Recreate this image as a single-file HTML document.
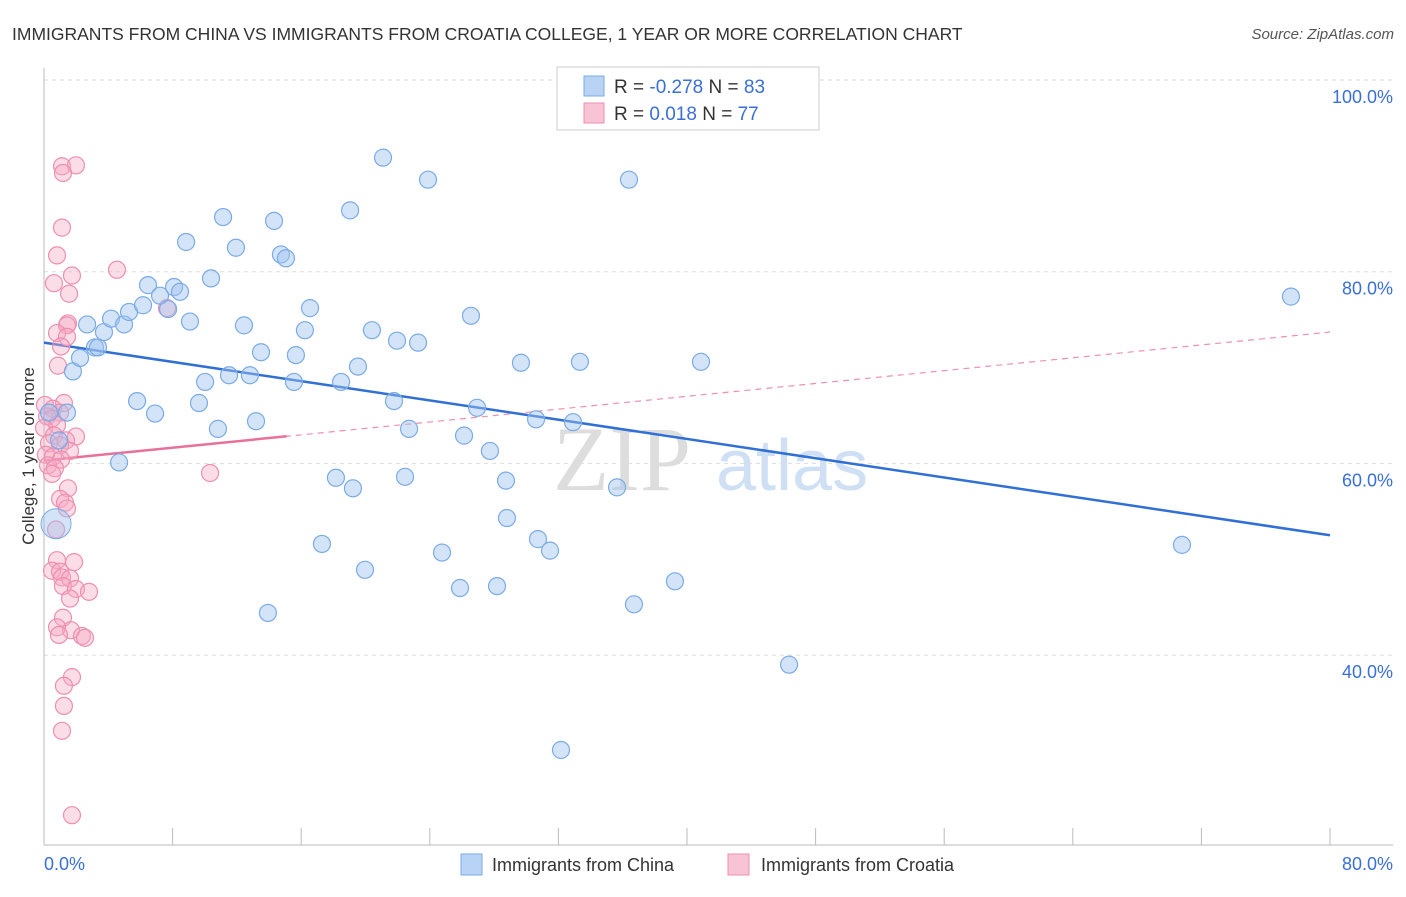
<!DOCTYPE html>
<html><head><meta charset="utf-8"><style>
body{margin:0;background:#fff;font-family:"Liberation Sans",sans-serif}
</style></head><body>
<svg width="1406" height="892" xmlns="http://www.w3.org/2000/svg" style="font-family:'Liberation Sans',sans-serif">
<text x="12" y="40" font-size="17.5" fill="#333">IMMIGRANTS FROM CHINA VS IMMIGRANTS FROM CROATIA COLLEGE, 1 YEAR OR MORE CORRELATION CHART</text>
<text x="1394" y="39" font-size="15" fill="#555" text-anchor="end" font-style="italic">Source: ZipAtlas.com</text>
<g><text x="553" y="490" font-size="92" fill="#ddd" font-family="Liberation Serif,serif">ZIP</text><text x="716" y="490" font-size="72" fill="#cfe0f5">atlas</text></g>
<g id="grid"></g>
<g id="axes"></g>
<text transform="translate(34,456) rotate(-90)" font-size="17" fill="#333" text-anchor="middle">College, 1 year or more</text>
<g id="lines"></g>
<g id="pts"></g>
<g>
<rect x="557" y="67" width="262" height="63" fill="#fff" stroke="#ccc"/>
<rect x="584" y="76" width="20" height="20" fill="#b9d3f5" stroke="#7aabe6"/>
<rect x="584" y="103" width="20" height="20" fill="#f7c3d5" stroke="#ee8fb0"/>
<text x="614" y="93" font-size="19" fill="#333">R = <tspan fill="#3a6fd8">-0.278</tspan>   N = <tspan fill="#3a6fd8">83</tspan></text>
<text x="614" y="120" font-size="19" fill="#333">R =   <tspan fill="#3a6fd8">0.018</tspan>   N = <tspan fill="#3a6fd8">77</tspan></text>
</g>
<g>
<rect x="461" y="854" width="21" height="21" fill="#b9d3f5" stroke="#7aabe6"/>
<text x="492" y="871" font-size="18" fill="#333">Immigrants from China</text>
<rect x="728" y="854" width="21" height="21" fill="#f7c3d5" stroke="#ee8fb0"/>
<text x="761" y="871" font-size="18" fill="#333">Immigrants from Croatia</text>
</g>
</svg>
<script>
const chinaX=[1.43,2.68,3.17,3.36,3.73,4.17,4.98,5.29,5.79,6.16,6.47,6.91,7.22,7.72,8.09,8.46,8.84,9.08,9.64,10.02,10.39,10.82,11.14,11.51,11.94,12.44,12.81,13.19,13.5,14.31,14.74,15.05,15.55,15.67,16.23,16.55,17.29,18.16,18.48,19.04,19.22,19.53,19.97,20.4,21.09,21.77,21.96,22.46,22.71,23.27,23.89,24.76,25.88,26.13,26.56,26.94,27.74,28.18,28.74,28.8,29.67,30.61,30.73,31.48,32.16,32.91,33.34,35.65,36.39,36.7,39.25,40.87,46.35,70.79,77.57,4.67,1.8,2.24,0.31,0.93,13.93];
const chinaY=[65.3,74.5,72.1,72.1,73.7,75.1,74.5,75.8,66.5,76.5,78.6,65.2,77.5,76.1,78.4,77.9,83.1,74.8,66.3,68.5,79.3,63.6,85.7,69.2,82.5,74.4,69.2,64.4,71.6,85.3,81.8,81.4,68.5,71.3,73.9,76.2,51.6,58.5,68.5,86.4,57.4,70.1,48.9,73.9,91.9,66.5,72.8,58.6,63.6,72.6,89.6,50.7,47.0,62.9,75.4,65.8,61.3,47.2,58.2,54.3,70.5,64.6,52.1,50.9,30.1,64.3,70.6,57.5,89.6,45.3,47.7,70.6,39.0,51.5,77.4,60.1,69.6,71.0,65.3,62.4,44.4];
const croatiaX=[1.12,1.99,1.18,1.12,0.81,4.54,1.74,0.62,1.56,7.65,1.49,1.43,0.81,1.43,1.06,0.87,1.24,0.06,0.56,1.0,0.19,0.5,0.81,0,0.62,1.99,1.37,0.31,1.0,1.62,0.12,0.56,1.06,0.25,0.68,0.5,10.33,1.49,1.0,1.31,1.43,0.75,0.81,1.87,0.5,1.0,1.12,1.62,1.18,1.99,2.8,1.62,1.18,1.68,0.81,0.93,2.36,2.55,1.74,1.24,1.24,1.12,1.74,34.4];
const croatiaY=[91.0,91.1,90.3,84.6,81.7,80.2,79.6,78.8,77.7,76.2,74.6,74.4,73.6,73.2,72.2,70.2,66.3,66.1,65.7,65.3,64.9,64.7,64.0,63.7,62.9,62.8,62.4,62.1,61.9,61.3,60.9,60.7,60.4,59.8,59.5,58.9,59.0,57.4,56.3,55.9,55.3,53.1,49.9,49.7,48.8,48.7,48.1,48.0,47.2,46.9,46.6,45.9,43.9,42.6,42.9,42.1,42.0,41.8,37.7,36.8,34.7,32.1,23.3,97.0];
const yTicks=[100,80,60,40];
const yTickLabels=["100.0%","80.0%","60.0%","40.0%"];
const xTicks=[0,8,16,24,32,40,48,56,64,72,80];
const chinaTrend=[72.6,52.5];
const croatiaTrend=[60.3,73.7];
const croatiaSolidEnd=15.1;
const NS="http://www.w3.org/2000/svg";
const X=v=>44+v*16.075, Y=v=>80+(100-v)*9.585;
function mk(t,a,p){const e=document.createElementNS(NS,t);for(const k in a)e.setAttribute(k,a[k]);p.appendChild(e);return e;}
const g=document.getElementById('grid'),ax=document.getElementById('axes'),ln=document.getElementById('lines'),pt=document.getElementById('pts');
yTicks.forEach((t,i)=>{const l=mk('line',{x1:44,x2:1393,y1:Y(t),y2:Y(t),stroke:'#ddd','stroke-dasharray':'4,4'},g);


const tx=mk('text',{x:1393,y:Y(t)+23,'font-size':18,fill:'#3a6fd8','text-anchor':'end'},ax);tx.textContent=yTickLabels[i];

});
mk('line',{x1:44,x2:44,y1:68,y2:845,stroke:'#bbb'},ax);
mk('line',{x1:44,x2:1393,y1:845,y2:845,stroke:'#bbb'},ax);
xTicks.forEach(t=>{const l=mk('line',{x1:X(t),x2:X(t),y1:828,y2:845,stroke:'#bbb'},ax);

});
const xl0=mk('text',{x:44,y:870,'font-size':18,fill:'#3a6fd8'},ax);xl0.textContent="0.0%";


const xl1=mk('text',{x:1393,y:870,'font-size':18,fill:'#3a6fd8','text-anchor':'end'},ax);xl1.textContent="80.0%";


function dots(xs,ys,fill,stroke,name){xs.forEach((x,i)=>{const c=mk('circle',{cx:X(x),cy:Y(ys[i]),r:8.5,fill:fill,stroke:stroke,'stroke-width':1.2},pt);

});}
dots(croatiaX,croatiaY,'rgba(245,170,195,0.4)','#ee8fb0','croatia-point');
dots(chinaX,chinaY,'rgba(160,195,240,0.45)','#7aabe6','china-point');
const big=mk('circle',{cx:X(0.75),cy:Y(53.7),r:15,fill:'rgba(160,195,240,0.45)',stroke:'#7aabe6'},pt);


const slope=(croatiaTrend[1]-croatiaTrend[0])/80;
const pd=mk('line',{x1:X(0),y1:Y(croatiaTrend[0]),x2:X(80),y2:Y(croatiaTrend[1]),stroke:'#ee8fb0','stroke-dasharray':'6,5','stroke-width':1.2},ln);


const ps=mk('line',{x1:X(0),y1:Y(croatiaTrend[0]),x2:X(croatiaSolidEnd),y2:Y(croatiaTrend[0]+slope*croatiaSolidEnd),stroke:'#e8709a','stroke-width':2.5},ln);


const bl=mk('line',{x1:X(0),y1:Y(chinaTrend[0]),x2:X(80),y2:Y(chinaTrend[1]),stroke:'#2f6fd6','stroke-width':2.5},ln);


</script>
</body></html>
